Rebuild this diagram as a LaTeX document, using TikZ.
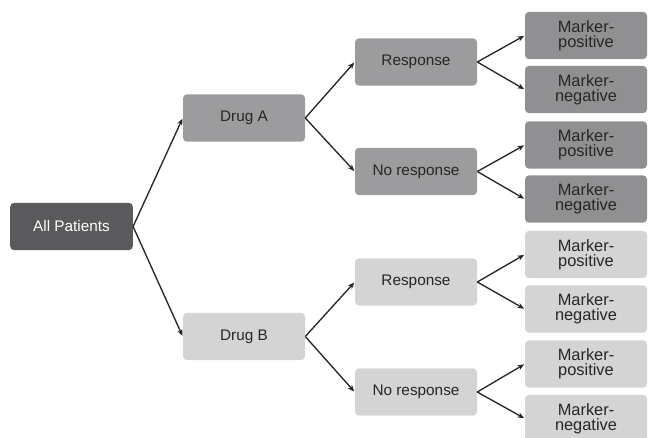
\documentclass[tikz,border=0pt]{standalone}
\usepackage{fontspec}
\setmainfont{Liberation Sans}
\usetikzlibrary{arrows.meta}
\begin{document}
\begin{tikzpicture}[x=0.75pt,y=-0.75pt,
  box/.style={rounded corners=3pt, minimum width=91.5pt, minimum height=35.5pt, inner sep=0pt, align=center, font=\fontsize{11.5}{10.7}\selectfont, text=black!85},
  allbox/.style={box, fill=allc, text=white, minimum width=92pt},
  abox/.style={box, fill=ac},
  mk/.style={font=\fontsize{12.3}{10.9}\selectfont},
  amark/.style={box, fill=amc, mk},
  bbox/.style={box, fill=bc},
  bmark/.style={bbox, mk},
  conn/.style={draw=black!85, line width=1pt, -{Stealth[length=5pt,width=4pt]}, shorten >=0.5pt}]
\definecolor{allc}{HTML}{5A5A5C}
\definecolor{ac}{HTML}{9C9C9E}
\definecolor{amc}{HTML}{909092}
\definecolor{bc}{HTML}{D4D4D4}
\useasboundingbox (0,0) rectangle (648,437);
\node[allbox] (all) at (71.5,226.5) {All Patients};
\node[abox] (da) at (244,118) {Drug A};
\node[bbox] (db) at (244,336.5) {Drug B};
\node[abox] (ra) at (416,62) {Response};
\node[abox] (na) at (416,171.5) {No response};
\node[bbox] (rb) at (416,282) {Response};
\node[bbox] (nb) at (416,392) {No response};
\node[amark] (m1) at (586,35.5) {Marker-\\positive};
\node[amark] (m2) at (586,89.5) {Marker-\\negative};
\node[amark] (m3) at (586,145) {Marker-\\positive};
\node[amark] (m4) at (586,199) {Marker-\\negative};
\node[bmark] (m5) at (586,254.5) {Marker-\\positive};
\node[bmark] (m6) at (586,309) {Marker-\\negative};
\node[bmark] (m7) at (586,364) {Marker-\\positive};
\node[bmark] (m8) at (586,418.5) {Marker-\\negative};
\draw[conn] (all.east) -- (da.west);
\draw[conn] (all.east) -- (db.west);
\draw[conn] (da.east) -- (ra.west);
\draw[conn] (da.east) -- (na.west);
\draw[conn] (db.east) -- (rb.west);
\draw[conn] (db.east) -- (nb.west);
\draw[conn] (ra.east) -- (m1.west);
\draw[conn] (ra.east) -- (m2.west);
\draw[conn] (na.east) -- (m3.west);
\draw[conn] (na.east) -- (m4.west);
\draw[conn] (rb.east) -- (m5.west);
\draw[conn] (rb.east) -- (m6.west);
\draw[conn] (nb.east) -- (m7.west);
\draw[conn] (nb.east) -- (m8.west);
\end{tikzpicture}
\end{document}
